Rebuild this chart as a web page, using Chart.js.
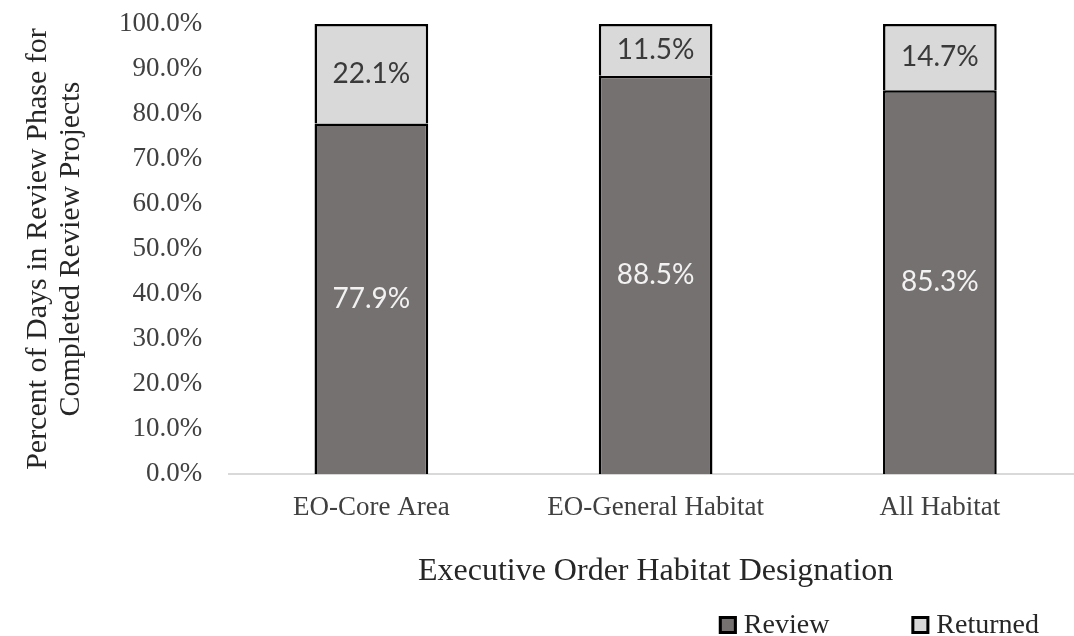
<!DOCTYPE html>
<html><head><meta charset="utf-8">
<script src="https://cdn.jsdelivr.net/npm/chart.js@4"></script>
<style>html,body{margin:0;padding:0;overflow:hidden;background:#fff}#wrap{width:1090px;height:636px}</style>
</head><body><div id="wrap"><canvas id="c" width="1090" height="636"></canvas></div>
<script>
const categories = ['EO-Core Area', 'EO-General Habitat', 'All Habitat'];
const reviewValues = [77.9, 88.5, 85.3];
const returnedValues = [22.1, 11.5, 14.7];
const seriesNames = ['Review', 'Returned'];
const yTickMin = 0, yTickMax = 100, yTickStep = 10;
const xAxisTitle = 'Executive Order Habitat Designation';
const yAxisTitle = ['Percent of Days in Review Phase for', 'Completed Review Projects'];

const SERIF = '"Liberation Serif", serif';
const SANS = 'Lato, "Open Sans", sans-serif';
const reviewColor = '#767171';
const returnedColor = '#d9d9d9';
const textColor = '#404040';

const valueLabels = {
  id: 'valueLabels',
  afterDatasetsDraw(chart) {
    const ctx = chart.ctx;
    ctx.save();
    ctx.font = '28px ' + SANS;
    ctx.textAlign = 'center';
    ctx.textBaseline = 'middle';
    chart.data.datasets.forEach((ds, di) => {
      const meta = chart.getDatasetMeta(di);
      meta.data.forEach((bar, i) => {
        const v = ds.data[i];
        ctx.fillStyle = di === 0 ? '#f2f2f2' : '#3a3a3a';
        ctx.fillText(v.toFixed(1) + '%', bar.x, (bar.y + bar.base) / 2);
      });
    });
    ctx.restore();
  }
};

const bottomLegend = {
  id: 'bottomLegend',
  afterDraw(chart) {
    const ctx = chart.ctx;
    ctx.save();
    ctx.font = '28px ' + SERIF;
    ctx.textBaseline = 'middle';
    const box = 18, gapText = 7, gapItem = 82;
    const items = chart.data.datasets.map(ds => ({ text: ds.label, fill: ds.backgroundColor }));
    const widths = items.map(it => box + gapText + ctx.measureText(it.text).width);
    const total = widths.reduce((a, b) => a + b, 0) + gapItem * (items.length - 1);
    let x = chart.chartArea.right - 43 - total;
    const y = chart.height - 11;
    items.forEach((it, k) => {
      ctx.fillStyle = it.fill;
      ctx.fillRect(x, y - box / 2, box, box);
      ctx.lineWidth = 3;
      ctx.strokeStyle = '#000';
      ctx.strokeRect(x + 1.5, y - box / 2 + 1.5, box - 3, box - 3);
      ctx.fillStyle = '#262626';
      ctx.textAlign = 'left';
      ctx.fillText(it.text, x + box + gapText, y + 1);
      x += widths[k] + gapItem;
    });
    ctx.restore();
  }
};

new Chart(document.getElementById('c'), {
  type: 'bar',
  data: {
    labels: categories,
    datasets: [
      { label: seriesNames[0], data: reviewValues, backgroundColor: reviewColor, borderColor: '#000', borderWidth: 2.5 },
      { label: seriesNames[1], data: returnedValues, backgroundColor: returnedColor, borderColor: '#000', borderWidth: 2.5 }
    ]
  },
  options: {
    responsive: false,
    animation: false,
    devicePixelRatio: 1,
    layout: { padding: { top: 0, left: 22, right: 8, bottom: 45 } },
    datasets: { bar: { categoryPercentage: 1, barPercentage: 0.4 } },
    plugins: { legend: { display: false }, tooltip: { enabled: false } },
    scales: {
      x: {
        stacked: true,
        grid: { display: false, drawTicks: false },
        border: { display: true, color: '#d9d9d9', width: 2 },
        ticks: { font: { family: SERIF, size: 27 }, color: textColor, padding: 18 },
        title: { display: true, text: xAxisTitle, font: { family: SERIF, size: 32 }, color: '#262626', padding: { top: 10, bottom: 0 } }
      },
      y: {
        stacked: true,
        min: yTickMin, max: yTickMax,
        grid: { display: false },
        border: { display: false },
        afterFit: s => { s.paddingTop = 24; s.paddingBottom = 16; },
        ticks: { stepSize: yTickStep, font: { family: SERIF, size: 27 }, color: textColor, padding: 19,
          callback: v => v.toFixed(1) + '%' },
        title: { display: true, text: yAxisTitle, font: { family: SERIF, size: 30, lineHeight: 1.1 }, color: '#262626', padding: { top: 0, bottom: 12 } }
      }
    }
  },
  plugins: [valueLabels, bottomLegend]
});
</script></body></html>
